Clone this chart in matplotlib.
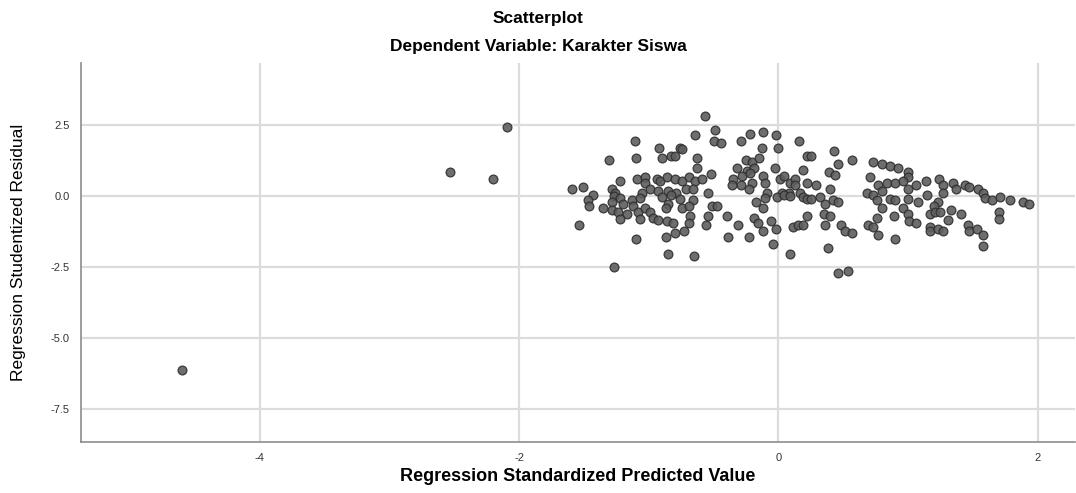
import matplotlib
matplotlib.use("Agg")
import matplotlib.pyplot as plt

plt.rcParams['font.family'] = ['Liberation Sans', 'DejaVu Sans']

title_main = "Scatterplot"
title_sub = "Dependent Variable: Karakter Siswa"
x_label = "Regression Standardized Predicted Value"
y_label = "Regression Studentized Residual"

x_ticks = [-4, -2, 0, 2]
x_tick_labels = ["-4", "-2", "0", "2"]
y_ticks = [2.5, 0.0, -2.5, -5.0, -7.5]
y_tick_labels = ["2.5", "0.0", "-2.5", "-5.0", "-7.5"]

# standardized predicted values (x) and studentized residuals (y)
pred_outliers = [-4.60, -2.53, -2.20, -2.09]
resid_outliers = [-6.14, 0.87, 0.62, 2.45]

pred_left = [-1.59, -1.51, -1.43, -1.47, -1.46, -1.54, -1.31, -1.11, -1.10, -0.92,
             -0.76, -0.90, -0.83, -0.80, -1.22, -1.09, -1.03, -1.03, -0.94, -0.91,
             -0.86, -0.80, -0.74, -1.28, -1.26, -1.05, -0.99, -0.93, -0.85, -0.79,
             -1.27, -1.22, -1.28, -1.20, -1.13, -1.07, -1.12, -0.90, -0.83, -0.76,
             -0.85, -0.74, -1.35, -1.28, -1.24, -1.17, -1.22, -1.08, -1.07, -1.03,
             -0.99, -0.97, -0.93, -0.86, -0.81, -0.87, -1.10, -0.87, -0.80, -0.73,
             -0.85, -1.27]
resid_left = [0.24, 0.31, 0.06, -0.12, -0.33, -1.00, 1.26, 1.96, 1.36, 1.71,
              1.71, 1.33, 1.43, 1.40, 0.55, 0.59, 0.69, 0.48, 0.59, 0.52,
              0.66, 0.62, 0.52, 0.24, 0.10, 0.10, 0.27, 0.17, 0.20, 0.13,
              0.02, -0.05, -0.19, -0.26, -0.15, -0.05, -0.36, -0.01, 0.06, -0.08,
              -0.26, -0.43, -0.43, -0.50, -0.57, -0.64, -0.79, -0.54, -0.79, -0.43,
              -0.54, -0.75, -0.82, -0.89, -0.93, -0.43, -1.52, -1.42, -1.31, -1.21,
              -2.05, -2.51]

pred_mid = [-0.57, -0.49, -0.64, -0.50, -0.44, -0.29, -0.22, -0.12, -0.02, 0.16,
            -0.74, -0.13, 0.00, -0.63, -0.25, -0.20, -0.15, 0.22, -0.63, -0.52,
            -0.32, -0.24, -0.19, -0.03, 0.19, -0.69, -0.64, -0.59, -0.35, -0.28,
            -0.22, -0.36, -0.29, -0.20, -0.12, -0.10, 0.01, 0.04, 0.09, 0.13,
            0.13, 0.22, -0.71, -0.66, -0.54, -0.23, -0.09, 0.03, 0.08, 0.17,
            -0.66, -0.69, -0.68, -0.69, -0.51, -0.47, -0.54, -0.40, -0.56, -0.31,
            -0.17, -0.12, -0.10, -0.19, -0.16, -0.12, -0.06, -0.02, -0.01, 0.04,
            0.09, 0.19, 0.22, -0.39, -0.23, -0.04, 0.11, 0.15, 0.19, 0.22,
            -0.65, 0.09]
resid_mid = [2.84, 2.35, 2.14, 1.96, 1.89, 1.93, 2.21, 2.28, 2.17, 1.93,
             1.68, 1.71, 1.71, 1.36, 1.29, 1.22, 1.33, 1.43, 0.98, 0.80,
             0.98, 0.90, 1.01, 1.01, 0.94, 0.66, 0.55, 0.59, 0.62, 0.73,
             0.83, 0.41, 0.41, 0.48, 0.73, 0.48, 0.59, 0.73, 0.45, 0.59,
             0.38, 0.48, 0.27, 0.24, 0.10, 0.24, 0.10, 0.13, 0.10, 0.10,
             -0.15, -0.36, -0.71, -0.93, -0.33, -0.36, -0.71, -0.68, -1.03, -1.00,
             -0.19, -0.43, -0.05, -0.75, -0.96, -1.21, -0.89, -1.14, -0.01, 0.06,
             0.02, -0.01, -0.08, -1.45, -1.45, -1.70, -1.07, -1.00, -1.03, -0.68,
             -2.09, -2.05]

pred_right = [0.43, 0.25, 0.57, 0.46, 0.73, 0.80, 0.86, 0.92, 0.39, 0.44,
              1.00, 1.00, 0.71, 0.29, 0.40, 0.77, 0.84, 0.90, 0.96, 1.06,
              1.14, 0.80, 1.00, 0.25, 0.32, 0.36, 0.42, 0.46, 0.68, 0.73,
              0.76, 0.80, 0.86, 0.90, 1.00, 1.08, 1.15, 0.96, 0.35, 0.40,
              0.36, 0.48, 0.51, 0.57, 0.76, 0.89, 1.00, 1.01, 1.06, 0.69,
              0.73, 0.77, 1.17, 1.17, 1.17, 0.90, 0.38, 0.46, 0.54]
resid_right = [1.61, 1.43, 1.26, 1.15, 1.22, 1.15, 1.08, 0.98, 0.87, 0.76,
               0.87, 0.66, 0.66, 0.41, 0.27, 0.38, 0.48, 0.45, 0.52, 0.41,
               0.52, 0.17, 0.27, -0.08, -0.01, -0.26, -0.12, -0.19, 0.10, 0.06,
               -0.15, -0.40, -0.08, -0.12, -0.08, -0.19, 0.06, -0.43, -0.64, -0.71,
               -1.00, -1.00, -1.21, -1.31, -0.75, -0.71, -0.64, -0.89, -0.96, -1.03,
               -1.10, -1.35, -0.64, -1.07, -1.24, -1.49, -1.84, -2.69, -2.62]

pred_far = [1.24, 1.27, 1.27, 1.35, 1.37, 1.44, 1.47, 1.54, 1.58, 1.59,
            1.65, 1.71, 1.79, 1.89, 1.93, 1.23, 1.20, 1.21, 1.25, 1.33,
            1.41, 1.70, 1.70, 1.31, 1.23, 1.27, 1.46, 1.47, 1.53, 1.58,
            1.58]
resid_far = [0.59, 0.38, 0.13, 0.45, 0.24, 0.38, 0.31, 0.24, 0.13, -0.05,
             -0.15, -0.01, -0.12, -0.22, -0.26, -0.22, -0.36, -0.54, -0.57, -0.47,
             -0.61, -0.57, -0.79, -0.82, -1.14, -1.24, -1.00, -1.21, -1.14, -1.38,
             -1.77]

pred = pred_outliers + pred_left + pred_mid + pred_right + pred_far
resid = resid_outliers + resid_left + resid_mid + resid_right + resid_far

fig = plt.figure(figsize=(10.76, 4.93), dpi=100)
ax = fig.add_axes([0.0753, 0.1034, 0.924, 0.768])

ax.set_xlim(-5.38, 2.29)
ax.set_ylim(-8.66, 4.68)

ax.set_xticks(x_ticks)
ax.set_xticklabels(x_tick_labels)
ax.set_yticks(y_ticks)
ax.set_yticklabels(y_tick_labels)
ax.tick_params(axis='both', length=0, labelsize=8, labelcolor='#333333', pad=8)

ax.grid(True, color='#dcdcdc', linewidth=1.6)
ax.set_axisbelow(True)
for s in ['top', 'right']:
    ax.spines[s].set_visible(False)
for s in ['left', 'bottom']:
    ax.spines[s].set_color('#8c8c8c')
    ax.spines[s].set_linewidth(1.2)

ax.scatter(pred, resid, s=40, facecolor='#5e5e5e', edgecolor='#2e2e2e',
           linewidth=0.9, alpha=0.9, zorder=3)

ax.set_xlabel(x_label, fontsize=13, fontweight='bold', va='center')
ax.xaxis.set_label_coords(0.5, -0.092)
ax.set_ylabel(y_label, fontsize=12.5, va='center')
ax.yaxis.set_label_coords(-0.063, 0.5)

fig.text(0.5, 0.963, title_main, ha='center', va='center', fontsize=12.5, fontweight='bold')
fig.text(0.5, 0.905, title_sub, ha='center', va='center', fontsize=12.5, fontweight='bold')

fig.savefig("out.png", dpi=100)
